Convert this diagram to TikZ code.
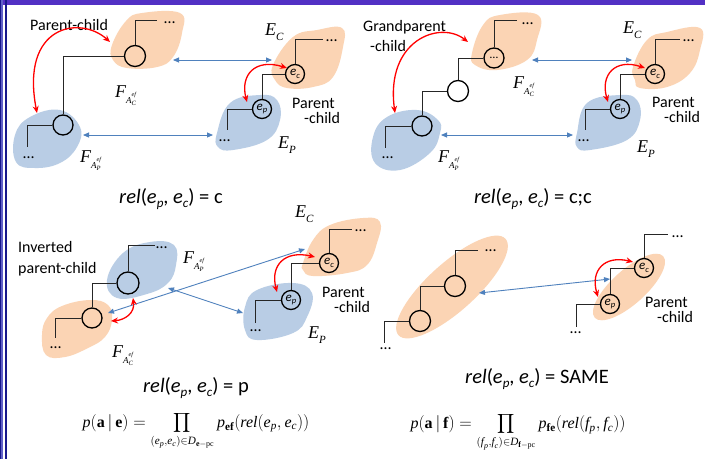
\documentclass[tikz,border=0pt]{standalone}
\usepackage{fontspec}
\usepackage{amsmath}
\usepackage{graphicx}
\setmainfont{Carlito}
\newfontfamily\tms{Liberation Serif}
\usetikzlibrary{arrows.meta}
\definecolor{blobO}{RGB}{251,212,180}
\definecolor{blobB}{RGB}{185,205,229}
\definecolor{arrB}{RGB}{79,129,189}
\definecolor{barP}{RGB}{82,48,196}
\definecolor{navyB}{RGB}{24,24,140}
\definecolor{lightnavy}{RGB}{96,96,200}
\newcommand\Ti[1]{\text{\tms\itshape #1}}
\newcommand\Tb[1]{\text{\tms\bfseries #1}}
\newcommand\Tr[1]{\text{\tms #1}}
\newcommand\Flab[1]{{\tms\itshape F\raisebox{-6pt}{\fontsize{9}{9}\selectfont A\rlap{\raisebox{6.5pt}{\fontsize{6}{6}\selectfont ef}}\raisebox{-2pt}{\fontsize{6.5}{6.5}\selectfont #1}}}}
\newcommand\Elab[1]{{\tms\itshape E\raisebox{-5pt}{\fontsize{11}{11}\selectfont #1}}}
\newcommand\Clab[1]{\textit{e}\raisebox{-2.5pt}{\fontsize{8.5}{8.5}\selectfont\itshape #1}}
\newcommand\Rel[1]{\textit{rel}(\textit{e}\raisebox{-4pt}{\fontsize{13}{13}\selectfont\itshape p}, \textit{e}\raisebox{-4pt}{\fontsize{13}{13}\selectfont\itshape c}) = #1}
\newcommand\smallprod{\mathop{\vcenter{\hbox{\scalebox{0.78}{$\displaystyle\prod$}}}}\limits}
\begin{document}
\begin{tikzpicture}[x=1pt,y=-1pt,
  blobo/.style={fill=blobO},
  blobb/.style={fill=blobB},
  circ/.style={circle, draw=black, line width=1.3pt, minimum size=21pt, inner sep=0pt, font=\fontsize{13}{13}\selectfont},
  circs/.style={circ, minimum size=19pt},
  stem/.style={draw=black!85, line width=1pt},
  barr/.style={draw=arrB, line width=0.9pt, {Triangle[length=6pt,width=5pt]}-{Triangle[length=6pt,width=5pt]}},
  rarr/.style={draw=red, line width=1.3pt, {Stealth[length=7pt,width=6pt]}-{Stealth[length=7pt,width=6pt]}},
  ellip/.style={font=\fontsize{16}{16}\selectfont, inner sep=0pt, anchor=base west},
  lbl/.style={font=\fontsize{16}{16}\selectfont, inner sep=0pt, anchor=base west},
  mlab/.style={font=\fontsize{18}{18}\selectfont, inner sep=0pt, anchor=base west},
  reltxt/.style={font=\fontsize{20.5}{22}\selectfont, inner sep=0pt, anchor=base},
  frm/.style={font=\fontsize{16}{16}\selectfont, inner sep=0pt, anchor=base}
]
\useasboundingbox (0,0) rectangle (705,459);
\fill[white] (0,0) rectangle (705,459);
\fill[barP] (0,0) rectangle (705,4.5);
\fill[navyB] (0,0) rectangle (1.3,459);
\fill[lightnavy] (1.3,0) rectangle (3.3,459);
\fill[navyB] (5.2,0) rectangle (7.2,459);

% ---------------- Panel 1 ----------------
\fill[blobo] plot[smooth cycle, tension=0.7] coordinates {(112,45) (126,21) (142,13) (180,13) (182,33) (173,57) (157,67) (127,68) (113,60)};
\fill[blobb] plot[smooth cycle, tension=0.7] coordinates {(15,135) (30,117) (60,110) (80,127) (77,147) (60,163) (35,168) (16,162)};
\fill[blobo] plot[smooth cycle, tension=0.7] coordinates {(273,65) (293,37) (317,30) (342,28) (343,47) (333,77) (313,87) (287,88) (275,80)};
\fill[blobb] plot[smooth cycle, tension=0.7] coordinates {(217,133) (230,103) (260,95) (277,100) (280,120) (267,140) (233,150) (218,147)};

\node[circ] (c1a) at (135,56) {};
\node[circ, minimum size=20pt] (c1b) at (63,125) {};
\node[circs] (c1c) at (295,74) {\Clab{c}};
\node[circs] (c1d) at (262,109) {\Clab{p}};
\coordinate (s1a) at (157,20);
\coordinate (s1b) at (27,147);
\coordinate (s1c) at (323,39);
\coordinate (s1d) at (227,130);
\draw[stem] (c1a.north) |- (s1a);
\draw[stem] (c1a.west) -| (c1b.north);
\draw[stem] (c1b.west) -| (s1b);
\draw[stem] (c1c.north) |- (s1c);
\draw[stem] (c1c.west) -| (c1d.north);
\draw[stem] (c1d.west) -| (s1d);
\node[ellip] (d1a) at (164,23.5) {\textellipsis};
\node[ellip] (d1b) at (23,158.5) {\textellipsis};
\node[ellip] (d1c) at (326,41.5) {\textellipsis};
\node[ellip] (d1d) at (219,141.5) {\textellipsis};

\coordinate (b1a) at (173,60); \coordinate (b1b) at (272,60);
\coordinate (b1c) at (83,135); \coordinate (b1d) at (213,135);
\draw[barr] (b1a) -- (b1b);
\draw[barr] (b1c) -- (b1d);

\node[lbl] (t1a) at (30,30) {Parent-child};
\node[lbl] (t1b) at (292,108) {Parent};
\node[lbl] (t1c) at (304,123) {-child};
\node[mlab] (f1a) at (115,97) {\Flab{C}};
\node[mlab] (f1b) at (80,162) {\Flab{P}};
\node[mlab] (e1a) at (265,35) {\Elab{C}};
\node[mlab] (e1b) at (278,148) {\Elab{P}};

\coordinate (r1a) at (110,42); \coordinate (r1b) at (37,113);
\coordinate (r1c) at (287,68); \coordinate (r1d) at (247,102);
\draw[rarr] (r1a) .. controls (80,15) and (20,25) .. (r1b);
\draw[rarr] (r1c) .. controls (255,58) and (240,75) .. (r1d);
\node[reltxt] (rel1) at (171,203) {\Rel{c}};

% ---------------- Panel 2 ----------------
\fill[blobo] plot[smooth cycle, tension=0.7] coordinates {(472,53) (483,25) (500,15) (538,15) (537,40) (527,60) (497,70) (475,65)};
\fill[blobb] plot[smooth cycle, tension=0.7] coordinates {(373,137) (387,117) (417,110) (438,120) (440,133) (430,153) (400,170) (375,163)};
\fill[blobo] plot[smooth cycle, tension=0.7] coordinates {(633,67) (647,40) (667,32) (700,28) (700,50) (690,73) (667,87) (640,88) (635,80)};
\fill[blobb] plot[smooth cycle, tension=0.7] coordinates {(577,133) (587,103) (620,95) (637,100) (640,120) (627,140) (590,150) (577,147)};

\node[circ, minimum size=20pt, font=\fontsize{12}{12}\selectfont] (c2a) at (494,58) {\textellipsis};
\node[circ] (c2m) at (458,91) {};
\node[circ, minimum size=20pt] (c2b) at (422,126) {};
\node[circs] (c2c) at (655,74) {\Clab{c}};
\node[circs] (c2d) at (620,109) {\Clab{p}};
\coordinate (s2a) at (517,20);
\coordinate (s2b) at (385,148);
\coordinate (s2c) at (680,39);
\coordinate (s2d) at (585,130);
\draw[stem] (c2a.north) |- (s2a);
\draw[stem] (c2a.west) -| (c2m.north);
\draw[stem] (c2m.west) -| (c2b.north);
\draw[stem] (c2b.west) -| (s2b);
\draw[stem] (c2c.north) |- (s2c);
\draw[stem] (c2c.west) -| (c2d.north);
\draw[stem] (c2d.west) -| (s2d);
\node[ellip] (d2a) at (522,24.5) {\textellipsis};
\node[ellip] (d2b) at (382,158.5) {\textellipsis};
\node[ellip] (d2c) at (683,41.5) {\textellipsis};
\node[ellip] (d2d) at (578,141.5) {\textellipsis};

\coordinate (b2a) at (532,60); \coordinate (b2b) at (632,60);
\coordinate (b2c) at (441,135); \coordinate (b2d) at (573,135);
\draw[barr] (b2a) -- (b2b);
\draw[barr] (b2c) -- (b2d);

\node[lbl] (t2a) at (363,31) {Grandparent};
\node[lbl] (t2a2) at (370,51) {-child};
\node[lbl] (t2b) at (652,107) {Parent};
\node[lbl] (t2c) at (664,122) {-child};
\node[mlab] (f2a) at (513,88) {\Flab{C}};
\node[mlab] (f2b) at (438,162) {\Flab{P}};
\node[mlab] (e2a) at (623,33) {\Elab{C}};
\node[mlab] (e2b) at (637,152) {\Elab{P}};

\coordinate (r2a) at (468,42); \coordinate (r2b) at (395,113);
\coordinate (r2c) at (645,68); \coordinate (r2d) at (608,102);
\draw[rarr] (r2a) .. controls (440,20) and (385,40) .. (r2b);
\draw[rarr] (r2c) .. controls (615,58) and (600,75) .. (r2d);
\node[reltxt] (rel2) at (533,203) {\Rel{c;c}};

% ---------------- Panel 3 ----------------
\fill[blobb] plot[smooth cycle, tension=0.7] coordinates {(107,280) (123,253) (150,242) (174,245) (176,265) (168,283) (147,294) (117,298)};
\fill[blobo] plot[smooth cycle, tension=0.7] coordinates {(42,335) (47,318) (62,306) (90,300) (108,305) (112,320) (105,337) (88,348) (65,357) (46,355)};
\fill[blobo] plot[smooth cycle, tension=0.7] coordinates {(303,263) (313,240) (330,225) (363,218) (380,222) (377,243) (367,265) (347,273) (313,276) (303,270)};
\fill[blobb] plot[smooth cycle, tension=0.7] coordinates {(245,307) (257,290) (293,283) (312,293) (307,317) (293,333) (257,340) (245,330)};

\node[circ, minimum size=22pt] (c3a) at (128,283) {};
\node[circ, minimum size=20pt] (c3b) at (92,318) {};
\node[circs] (c3c) at (329,263) {\Clab{c}};
\node[circs] (c3d) at (291,300) {\Clab{p}};
\coordinate (s3a) at (155,245);
\coordinate (s3b) at (55,338);
\coordinate (s3c) at (352,229);
\coordinate (s3d) at (255,323);
\draw[stem] (c3a.north) |- (s3a);
\draw[stem] (c3a.west) -| (c3b.north);
\draw[stem] (c3b.west) -| (s3b);
\draw[stem] (c3c.north) |- (s3c);
\draw[stem] (c3c.west) -| (c3d.north);
\draw[stem] (c3d.west) -| (s3d);
\node[ellip] (d3a) at (156,248.5) {\textellipsis};
\node[ellip] (d3b) at (50,348.5) {\textellipsis};
\node[ellip] (d3c) at (355,231.5) {\textellipsis};
\node[ellip] (d3d) at (250,331.5) {\textellipsis};

\coordinate (b3a) at (108,313); \coordinate (b3b) at (305,249);
\coordinate (b3c) at (168,288); \coordinate (b3d) at (243,313);
\draw[barr] (b3a) -- (b3b);
\draw[barr] (b3c) -- (b3d);

\node[lbl] (t3a) at (18,252) {Inverted};
\node[lbl] (t3a2) at (18,273) {parent-child};
\node[lbl] (t3b) at (322,297) {Parent};
\node[lbl] (t3c) at (334,312) {-child};
\node[mlab] (f3a) at (183,263) {\Flab{P}};
\node[mlab] (f3b) at (112,357) {\Flab{C}};
\node[mlab] (e3a) at (295,217) {\Elab{C}};
\node[mlab] (e3b) at (308,338) {\Elab{P}};

\coordinate (r3a) at (133,298); \coordinate (r3b) at (111,321);
\coordinate (r3c) at (315,257); \coordinate (r3d) at (277,292);
\draw[rarr] (r3a) .. controls (135,313) and (125,320) .. (r3b);
\draw[rarr] (r3c) .. controls (285,250) and (270,265) .. (r3d);
\node[reltxt] (rel3) at (196,392) {\Rel{p}};
\node[frm] (fm3) at (196,427) {$\Ti{p}(\Tb{a}\,|\,\Tb{e}) = \smallprod_{(\Ti{e}_{\Ti{p}},\Ti{e}_{\Ti{c}})\in \Ti{D}_{\Tb{e}-\Tr{pc}}} \Ti{p}_{\Tb{ef}}(\Ti{rel}(\Ti{e}_{\Ti{p}},\Ti{e}_{\Ti{c}}))$};

% ---------------- Panel 4 ----------------
\begin{scope}[shift={(452,287)}, rotate=42]
\fill[blobo] (0,0) ellipse [x radius=72, y radius=24];
\end{scope}
\begin{scope}[shift={(629,287)}, rotate=42]
\fill[blobo] (0,0) ellipse [x radius=46, y radius=17];
\end{scope}

\node[circ] (c4a) at (455,286) {};
\node[circ] (c4b) at (420,321) {};
\node[circs] (c4c) at (644,268) {\Clab{c}};
\node[circs] (c4d) at (610,304) {\Clab{p}};
\coordinate (s4a) at (478,250);
\coordinate (s4b) at (384,343);
\coordinate (s4c) at (668,234);
\coordinate (s4d) at (576,327);
\draw[stem] (c4a.north) |- (s4a);
\draw[stem] (c4a.west) -| (c4b.north);
\draw[stem] (c4b.west) -| (s4b);
\draw[stem] (c4c.north) |- (s4c);
\draw[stem] (c4c.west) -| (c4d.north);
\draw[stem] (c4d.west) -| (s4d);
\node[ellip] (d4a) at (485,251.5) {\textellipsis};
\node[ellip] (d4b) at (380,349.5) {\textellipsis};
\node[ellip] (d4c) at (672,237.5) {\textellipsis};
\node[ellip] (d4d) at (570,333.5) {\textellipsis};

\coordinate (b4a) at (479,293); \coordinate (b4b) at (610,279);
\draw[barr] (b4a) -- (b4b);

\node[lbl] (t4b) at (645,307) {Parent};
\node[lbl] (t4c) at (657,322) {-child};

\coordinate (r4a) at (633,262); \coordinate (r4b) at (598,297);
\draw[rarr] (r4a) .. controls (605,255) and (590,270) .. (r4b);
\node[reltxt] (rel4) at (537,383) {\Rel{SAME}};
\node[frm] (fm4) at (518,428) {$\Ti{p}(\Tb{a}\,|\,\Tb{f}) = \smallprod_{(\Ti{f}_{\Ti{p}},\Ti{f}_{\Ti{c}})\in \Ti{D}_{\Tb{f}-\Tr{pc}}} \Ti{p}_{\Tb{fe}}(\Ti{rel}(\Ti{f}_{\Ti{p}},\Ti{f}_{\Ti{c}}))$};
\end{tikzpicture}
\end{document}
